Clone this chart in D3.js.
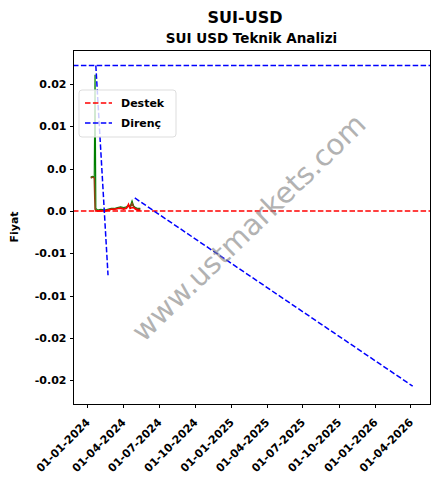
<!DOCTYPE html>
<html>
<head>
  <meta charset="utf-8">
  <title>SUI-USD</title>
  <script src="https://d3js.org/d3.v7.min.js"></script>
  <style>
    body { margin: 0; background: #fff; }
    text { font-family: "DejaVu Sans", sans-serif; }
    .axis path, .axis line { stroke: #000; shape-rendering: crispEdges; }
    .axis text { font-weight: bold; font-size: 11px; fill: #000; }
  </style>
</head>
<body>
<script>

  // svg size
  var w = 438;
  var h = 489;
  var margin = {left: 73, right: 8, top: 50, bottom: 85};

  // price data (close / high / low)
  var priceDates = ["2024-01-10", "2024-01-15", "2024-01-19", "2024-01-21", "2024-01-23", "2024-01-28",
                    "2024-02-05", "2024-02-14", "2024-02-22", "2024-03-02", "2024-03-10", "2024-03-18",
                    "2024-03-26", "2024-04-03", "2024-04-10", "2024-04-15", "2024-04-19", "2024-04-24",
                    "2024-04-28", "2024-05-03", "2024-05-09", "2024-05-15"];
  var closeVals = [0.0039, 0.0040, 0.0039, 0.0002, 0.0001, 0.0000,
                   0.0001, 0.0000, 0.0001, 0.0002, 0.0002, 0.0003,
                   0.0004, 0.0003, 0.0004, 0.0006, 0.0004, 0.0009,
                   0.0005, 0.0003, 0.0002, 0.0002];
  var highVals  = [0.0040, 0.0041, 0.0040, 0.0161, 0.0003, 0.0001,
                   0.0002, 0.0001, 0.0002, 0.0003, 0.0003, 0.0004,
                   0.0005, 0.0004, 0.0005, 0.0007, 0.0005, 0.0012,
                   0.0006, 0.0004, 0.0003, 0.0003];
  var lowVals   = [null, null, null, 0.0000, 0.0000, 0.0000,
                   0.0000, 0.0000, 0.0001, 0.0002, 0.0002, 0.0003,
                   0.0003, 0.0002, 0.0003, 0.0008, 0.0003, 0.0004,
                   0.0004, 0.0002, 0.0001, 0.0001];

  // support / resistance
  var destekLevel = 0.00001;
  var direncLevel = 0.0172;
  var trend1Dates = ["2024-01-23", "2024-02-23"];
  var trend1Vals = [0.0172, -0.0076];
  var trend2Dates = ["2024-05-01", "2026-04-07"];
  var trend2Vals = [0.00154, -0.0207];

  // ticks
  var xTickLabels = ["01-01-2024", "01-04-2024", "01-07-2024", "01-10-2024", "01-01-2025",
                     "01-04-2025", "01-07-2025", "01-10-2025", "01-01-2026", "01-04-2026"];
  var yTickVals = [0.015, 0.01, 0.005, 0, -0.005, -0.01, -0.015, -0.02];
  var yTickLabels = ["0.02", "0.01", "0.0", "0.0", "-0.01", "-0.01", "-0.02", "-0.02"];

  var parseDate = d3.timeParse("%Y-%m-%d");
  var parseTick = d3.timeParse("%d-%m-%Y");

  var svg = d3.select("body")
    .append("svg")
    .attr("width", w)
    .attr("height", h);

  var xScale = d3.scaleTime()
    .domain([parseDate("2023-11-26"), parseDate("2026-05-21")])
    .range([margin.left, w - margin.right]);

  var yScale = d3.scaleLinear()
    .domain([-0.02281, 0.01903])
    .range([h - margin.bottom, margin.top]);

  var x0 = margin.left, x1 = w - margin.right;
  var y0 = margin.top, y1 = h - margin.bottom;

  // clip
  svg.append("clipPath").attr("id", "plot")
    .append("rect")
    .attr("x", x0).attr("y", y0)
    .attr("width", x1 - x0).attr("height", y1 - y0);

  var plot = svg.append("g").attr("clip-path", "url(#plot)");

  // watermark
  svg.append("text")
    .attr("transform", "translate(250,229) rotate(-44)")
    .attr("text-anchor", "middle")
    .attr("dominant-baseline", "middle")
    .attr("font-size", "29px")
    .attr("fill", "#808080")
    .attr("opacity", 0.6)
    .text("www.ustmarkets.com");

  function series(vals) {
    return priceDates.map(function(d, i) {
      return {date: parseDate(d), v: vals[i]};
    });
  }

  var line = d3.line()
    .defined(function(d) { return d.v !== null; })
    .x(function(d) { return xScale(d.date); })
    .y(function(d) { return yScale(d.v); });

  plot.append("path").datum(series(highVals))
    .attr("d", line).attr("fill", "none")
    .attr("stroke", "green").attr("stroke-width", 1.2);

  plot.append("path").datum(series(closeVals))
    .attr("d", line).attr("fill", "none")
    .attr("stroke", "#8B4513").attr("stroke-width", 1.5);

  plot.append("path").datum(series(lowVals))
    .attr("d", line).attr("fill", "none")
    .attr("stroke", "red").attr("stroke-width", 1.5);

  // horizontal levels
  plot.append("line")
    .attr("x1", x0).attr("x2", x1)
    .attr("y1", yScale(destekLevel)).attr("y2", yScale(destekLevel))
    .attr("stroke", "red").attr("stroke-width", 1.5)
    .attr("stroke-dasharray", "5.5,2.4");

  plot.append("line")
    .attr("x1", x0).attr("x2", x1)
    .attr("y1", yScale(direncLevel)).attr("y2", yScale(direncLevel))
    .attr("stroke", "blue").attr("stroke-width", 1.5)
    .attr("stroke-dasharray", "5.5,2.4");

  // trend lines
  [[trend1Dates, trend1Vals], [trend2Dates, trend2Vals]].forEach(function(t) {
    plot.append("line")
      .attr("x1", xScale(parseDate(t[0][0]))).attr("y1", yScale(t[1][0]))
      .attr("x2", xScale(parseDate(t[0][1]))).attr("y2", yScale(t[1][1]))
      .attr("stroke", "blue").attr("stroke-width", 1.5)
      .attr("stroke-dasharray", "5.5,2.4");
  });

  // axes
  var xAxis = d3.axisBottom(xScale)
    .tickValues(xTickLabels.map(parseTick))
    .tickSize(3.5)
    .tickFormat(function(d, i) { return xTickLabels[i]; });

  var gx = svg.append("g")
    .attr("class", "axis")
    .attr("transform", "translate(0," + y1 + ")")
    .call(xAxis);
  gx.select(".domain").remove();
  gx.selectAll("text")
    .attr("text-anchor", "end")
    .attr("dy", null)
    .attr("y", 0)
    .attr("transform", "translate(3,19) rotate(-45)");

  var yAxis = d3.axisLeft(yScale)
    .tickValues(yTickVals)
    .tickSize(3.5)
    .tickFormat(function(d, i) { return yTickLabels[i]; });

  var gy = svg.append("g")
    .attr("class", "axis")
    .attr("transform", "translate(" + x0 + ",0)")
    .call(yAxis);
  gy.select(".domain").remove();

  // frame
  svg.append("rect")
    .attr("x", x0).attr("y", y0)
    .attr("width", x1 - x0).attr("height", y1 - y0)
    .attr("fill", "none").attr("stroke", "#000").attr("stroke-width", 1)
    .attr("shape-rendering", "crispEdges");

  // legend
  var leg = svg.append("g");
  leg.append("rect")
    .attr("x", 79).attr("y", 90).attr("width", 97).attr("height", 47)
    .attr("rx", 3)
    .attr("fill", "#fff").attr("fill-opacity", 0.8)
    .attr("stroke", "#ddd");
  var legItems = [["Destek", "red"], ["Direnç", "blue"]];
  legItems.forEach(function(d, i) {
    var ly = 103 + i * 20;
    leg.append("line")
      .attr("x1", 85).attr("x2", 112).attr("y1", ly).attr("y2", ly)
      .attr("stroke", d[1]).attr("stroke-width", 1.5)
      .attr("stroke-dasharray", "5.5,2.4");
    leg.append("text")
      .attr("x", 121).attr("y", ly + 4)
      .attr("font-size", "11px").attr("font-weight", "bold")
      .text(d[0]);
  });

  // titles
  svg.append("text")
    .attr("x", 245).attr("y", 23)
    .attr("text-anchor", "middle")
    .attr("font-size", "16px").attr("font-weight", "bold")
    .text("SUI-USD");

  svg.append("text")
    .attr("x", (x0 + x1) / 2).attr("y", 43)
    .attr("text-anchor", "middle")
    .attr("font-size", "13.5px").attr("font-weight", "bold")
    .text("SUI USD Teknik Analizi");

  svg.append("text")
    .attr("transform", "translate(18," + ((y0 + y1) / 2) + ") rotate(-90)")
    .attr("text-anchor", "middle")
    .attr("font-size", "11px").attr("font-weight", "bold")
    .text("Fiyat");

</script>
</body>
</html>
